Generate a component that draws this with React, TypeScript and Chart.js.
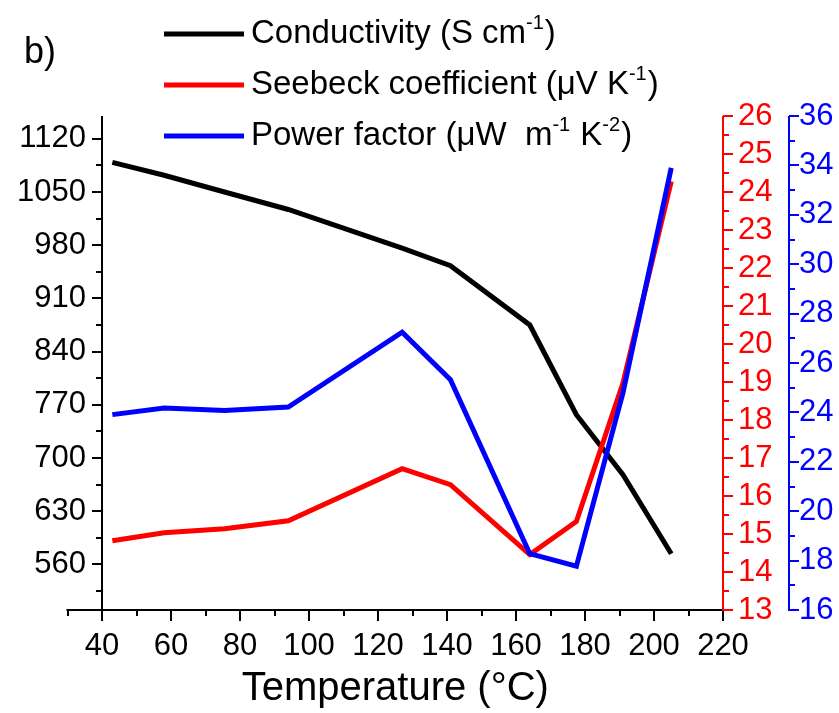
import { useEffect, useRef } from 'react';
import { Chart, registerables } from 'chart.js';

Chart.register(...registerables);

// ---- data ----
const temperatures = [43, 58, 75.5, 94, 127, 141, 164, 177.5, 191, 205];
const conductivity = [1089, 1072, 1050, 1027, 976, 953, 875, 757, 678, 574];
const seebeck = [14.82, 15.03, 15.14, 15.35, 16.72, 16.3, 14.46, 15.33, 18.97, 24.28];
const powerFactor = [23.91, 24.18, 24.08, 24.22, 27.25, 25.32, 18.28, 17.77, 24.79, 33.9];

// ---- tick labels ----
const xTickValues = [30, 40, 50, 60, 70, 80, 90, 100, 110, 120, 130, 140, 150, 160, 170, 180, 190, 200, 210, 220];
const xTickLabels = [40, 60, 80, 100, 120, 140, 160, 180, 200, 220];
const condTickValues = [525, 560, 595, 630, 665, 700, 735, 770, 805, 840, 875, 910, 945, 980, 1015, 1050, 1085, 1120];
const condTickLabels = [560, 630, 700, 770, 840, 910, 980, 1050, 1120];
const seebeckTickValues = [13, 13.5, 14, 14.5, 15, 15.5, 16, 16.5, 17, 17.5, 18, 18.5, 19, 19.5, 20, 20.5, 21, 21.5, 22, 22.5, 23, 23.5, 24, 24.5, 25, 25.5, 26];
const seebeckTickLabels = [13, 14, 15, 16, 17, 18, 19, 20, 21, 22, 23, 24, 25, 26];
const pfTickValues = [16, 17, 18, 19, 20, 21, 22, 23, 24, 25, 26, 27, 28, 29, 30, 31, 32, 33, 34, 35, 36];
const pfTickLabels = [16, 18, 20, 22, 24, 26, 28, 30, 32, 34, 36];

const seriesNames = ['Conductivity (S cm-1)', 'Seebeck coefficient (μV K-1)', 'Power factor (μW m-1 K-2)'];
const seriesColors = ['#000000', '#ff0000', '#0000ff'];
const legendParts: { t: string; sup?: boolean }[][] = [
  [{ t: 'Conductivity (S cm' }, { t: '-1', sup: true }, { t: ')' }],
  [{ t: 'Seebeck coefficient (μV K' }, { t: '-1', sup: true }, { t: ')' }],
  [{ t: 'Power factor (μW  m' }, { t: '-1', sup: true }, { t: ' K' }, { t: '-2', sup: true }, { t: ')' }],
];
const panelLabel = 'b)';
const xTitle = 'Temperature (°C)';

const FONT = '"Liberation Sans", Arial, Helvetica, sans-serif';

const decorPlugin = {
  id: 'decor',
  afterDraw(chart: any) {
    const ctx: CanvasRenderingContext2D = chart.ctx;
    const area = chart.chartArea;
    const sx = chart.scales.x;
    const sy = chart.scales.y;
    const sr = chart.scales.y1;
    const sb = chart.scales.y2;
    ctx.save();
    ctx.lineWidth = 2;
    ctx.lineCap = 'butt';

    // x axis line + ticks (extends to 30)
    ctx.strokeStyle = '#000';
    const xl = sx.getPixelForValue(30);
    ctx.beginPath();
    ctx.moveTo(xl - 1, area.bottom);
    ctx.lineTo(area.right, area.bottom);
    ctx.stroke();
    xTickValues.forEach((v) => {
      const px = Math.round(sx.getPixelForValue(v));
      const len = xTickLabels.includes(v) ? 11 : 6;
      ctx.beginPath();
      ctx.moveTo(px, area.bottom);
      ctx.lineTo(px, area.bottom + len);
      ctx.stroke();
    });

    const drawY = (scale: any, values: number[], majors: number[], x: number, dir: number, color: string) => {
      ctx.strokeStyle = color;
      ctx.beginPath();
      ctx.moveTo(x, area.top);
      ctx.lineTo(x, area.bottom + 1);
      ctx.stroke();
      values.forEach((v) => {
        const py = Math.round(scale.getPixelForValue(v));
        const len = majors.includes(v) ? 10 : 6;
        ctx.beginPath();
        ctx.moveTo(x, py);
        ctx.lineTo(x + dir * len, py);
        ctx.stroke();
      });
    };
    drawY(sy, condTickValues, condTickLabels, area.left, -1, '#000');
    drawY(sr, seebeckTickValues, seebeckTickLabels, sr.left, 1, '#ff0000');
    drawY(sb, pfTickValues, pfTickLabels, sb.left, 1, '#0000ff');

    // x title
    ctx.fillStyle = '#000';
    ctx.font = `40px ${FONT}`;
    ctx.textAlign = 'center';
    ctx.textBaseline = 'middle';
    ctx.fillText(xTitle, (xl + area.right) / 2, 689);

    // panel label
    ctx.textAlign = 'left';
    ctx.font = `36px ${FONT}`;
    ctx.fillText(panelLabel, 24, 53);

    // legend
    const ly = [34, 85, 136];
    legendParts.forEach((parts, i) => {
      ctx.strokeStyle = seriesColors[i];
      ctx.lineWidth = 5;
      ctx.beginPath();
      ctx.moveTo(164, ly[i]);
      ctx.lineTo(244, ly[i]);
      ctx.stroke();
      let x = 251;
      ctx.fillStyle = '#000';
      ctx.textBaseline = 'middle';
      parts.forEach((p) => {
        ctx.font = p.sup ? `20px ${FONT}` : `33px ${FONT}`;
        ctx.fillText(p.t, x, p.sup ? ly[i] - 11 : ly[i]);
        x += ctx.measureText(p.t).width + (p.sup ? 1 : 0);
      });
    });
    ctx.restore();
  },
};

function pts(values: number[]) {
  return temperatures.map((x, i) => ({ x, y: values[i] }));
}

export default function App() {
  const ref = useRef<HTMLCanvasElement | null>(null);
  useEffect(() => {
    if (!ref.current) return;
    const tickFont = { family: FONT, size: 31 };
    const chart = new Chart(ref.current, {
      type: 'line',
      data: {
        datasets: [
          { label: seriesNames[0], data: pts(conductivity), borderColor: seriesColors[0], yAxisID: 'y', order: 2 },
          { label: seriesNames[1], data: pts(seebeck), borderColor: seriesColors[1], yAxisID: 'y1', order: 1 },
          { label: seriesNames[2], data: pts(powerFactor), borderColor: seriesColors[2], yAxisID: 'y2', order: 0 },
        ].map((d) => ({ ...d, borderWidth: 5, pointRadius: 0, tension: 0, fill: false, borderJoinStyle: 'miter' as const })),
      },
      options: {
        animation: false,
        responsive: false,
        events: [],
        layout: { padding: { top: 116, left: 0, right: 0, bottom: 0 } },
        plugins: { legend: { display: false }, tooltip: { enabled: false } },
        scales: {
          x: {
            type: 'linear',
            min: 40,
            max: 220,
            afterBuildTicks: (s: any) => {
              s.ticks = xTickValues.filter((v) => v >= 40).map((v) => ({ value: v }));
            },
            afterFit: (s: any) => {
              s.height = 103;
            },
            grid: { display: false, drawTicks: true, tickLength: 11 },
            border: { display: false },
            ticks: {
              autoSkip: false,
              maxRotation: 0,
              padding: 7,
              color: '#000',
              font: tickFont,
              callback: (v: any) => (xTickLabels.includes(Number(v)) ? String(v) : ''),
            },
          },
          y: {
            type: 'linear',
            position: 'left',
            min: 500,
            max: 1150,
            afterBuildTicks: (s: any) => {
              s.ticks = condTickValues.map((v) => ({ value: v }));
            },
            afterFit: (s: any) => {
              s.width = 102;
            },
            grid: { display: false, drawTicks: true, tickLength: 10 },
            border: { display: false },
            ticks: {
              autoSkip: false,
              padding: 6,
              color: '#000',
              font: tickFont,
              callback: (v: any) => (condTickLabels.includes(Number(v)) ? String(v) : ''),
            },
          },
          y1: {
            type: 'linear',
            position: 'right',
            weight: 0,
            min: 13,
            max: 26,
            afterBuildTicks: (s: any) => {
              s.ticks = seebeckTickValues.map((v) => ({ value: v }));
            },
            afterFit: (s: any) => {
              s.width = 66;
            },
            grid: { display: false, drawTicks: true, tickLength: 10 },
            border: { display: false },
            ticks: {
              autoSkip: false,
              padding: 5,
              color: '#ff0000',
              font: tickFont,
              callback: (v: any) => (seebeckTickLabels.includes(Number(v)) ? String(v) : ''),
            },
          },
          y2: {
            type: 'linear',
            position: 'right',
            weight: 1,
            min: 16,
            max: 36,
            afterBuildTicks: (s: any) => {
              s.ticks = pfTickValues.map((v) => ({ value: v }));
            },
            afterFit: (s: any) => {
              s.width = 50;
            },
            grid: { display: false, drawTicks: true, tickLength: 10 },
            border: { display: false },
            ticks: {
              autoSkip: false,
              padding: 0,
              color: '#0000ff',
              font: tickFont,
              callback: (v: any) => (pfTickLabels.includes(Number(v)) ? String(v) : ''),
            },
          },
        },
      },
      plugins: [decorPlugin],
    } as any);
    return () => chart.destroy();
  }, []);
  return (
    <div style={{ position: 'fixed', left: 0, top: 0, width: 839, height: 713, background: '#fff' }}>
      <canvas ref={ref} width={839} height={713} style={{ display: 'block', width: 839, height: 713 }} />
    </div>
  );
}
